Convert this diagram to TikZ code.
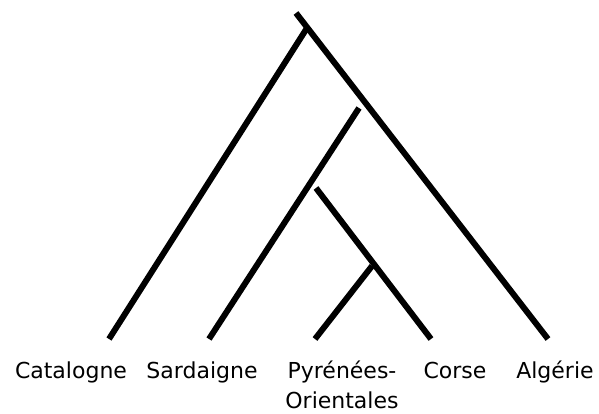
\documentclass[tikz,border=0pt]{standalone}
\usepackage{fontspec}
\setmainfont{DejaVu Sans}
\begin{document}
\begin{tikzpicture}[x=1pt,y=-1pt,
  branch/.style={line width=6pt,line cap=butt},
  leaflabel/.style={anchor=base,inner sep=0pt,font=\fontsize{22}{30}\selectfont,align=center}]
\useasboundingbox (0,0) rectangle (599,413);
% tree coordinates
\coordinate (root) at (296,13);
\coordinate (j1) at (307,28);
\coordinate (j2) at (359,108);
\coordinate (j3) at (316,188);
\coordinate (j4) at (372,266);
\coordinate (lcat) at (109,339);
\coordinate (lsar) at (209,339);
\coordinate (lpyr) at (315,339);
\coordinate (lcor) at (431,339);
\coordinate (lalg) at (548,339);
% branches
\draw[branch] (root) -- (lalg);
\draw[branch] (j1) -- (lcat);
\draw[branch] (j2) -- (lsar);
\draw[branch] (j3) -- (lcor);
\draw[branch] (j4) -- (lpyr);
% labels
\node[leaflabel] (tcat) at (71,378) {Catalogne};
\node[leaflabel] (tsar) at (202,378) {Sardaigne};
\node[leaflabel] (tpyr) at (342,408) {Pyrénées-\\Orientales};
\node[leaflabel] (tcor) at (455,378) {Corse};
\node[leaflabel] (talg) at (555,378) {Algérie};
\end{tikzpicture}
\end{document}
